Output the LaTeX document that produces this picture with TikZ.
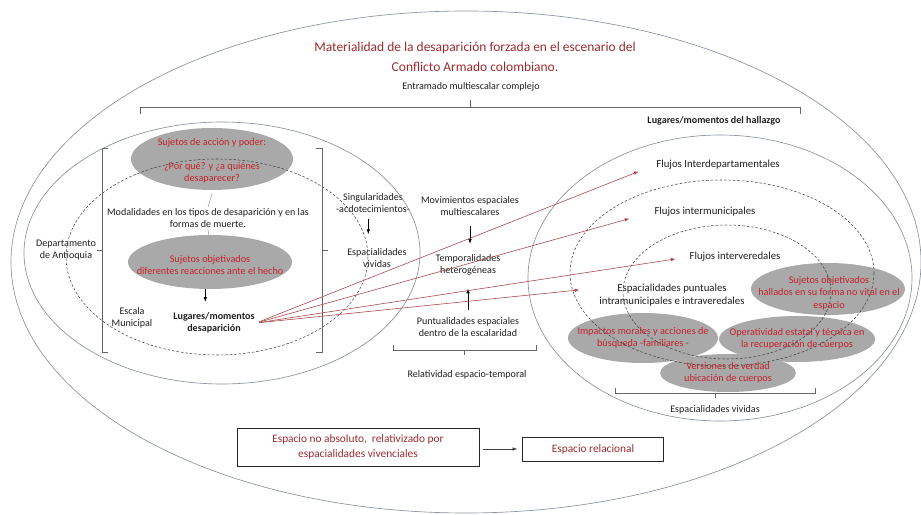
\documentclass[tikz,border=0pt]{standalone}
\usepackage{fontspec}
\setmainfont{Carlito}
\usetikzlibrary{calc,arrows.meta,shapes.geometric}
\definecolor{titred}{HTML}{9B2B2F}
\definecolor{blobred}{HTML}{C4222B}
\definecolor{blobgray}{HTML}{A9A9A9}
\definecolor{rimgray}{HTML}{87909F}
\definecolor{arrred}{HTML}{A8474B}
\tikzset{
  rim/.style={draw=rimgray,line width=0.55pt},
  rimdash/.style={draw=black!75,line width=0.45pt,dash pattern=on 2.2pt off 1.6pt},
  txt/.style={font=\fontsize{8.6}{10.4}\selectfont,align=center,inner sep=1pt,text=black!88},
  bold/.style={txt,font=\fontsize{8.6}{10.4}\selectfont\bfseries},
  flujo/.style={txt,font=\fontsize{9.2}{11.2}\selectfont},
  blob/.style 2 args={ellipse,fill=blobgray,inner sep=0pt,
    minimum width=#1*0.06cm,minimum height=#2*0.06cm},
  blobtxt/.style={text=blobred,align=center,inner sep=0pt,font=\fontsize{8.7}{10.5}\selectfont},
  caja/.style 2 args={draw=black!85,line width=0.8pt,text=titred,align=center,
    font=\fontsize{9.7}{13}\selectfont,minimum width=#1*0.03cm,minimum height=#2*0.03cm},
  bracket/.style={draw=black!60,line width=0.5pt},
  flecha/.style={draw=arrred,line width=0.5pt,-{Latex[length=4pt,width=3pt]}},
  negra/.style={draw=black,line width=0.5pt,-{Latex[length=4pt,width=3pt]}}
}
\begin{document}
\begin{tikzpicture}[x=0.03cm,y=-0.03cm]
%\draw[help lines,step=50] (0,0) grid (921,515);
\useasboundingbox (0,0) rectangle (921,515);
% texts on top
\node[txt,font=\fontsize{11.5}{16.5}\selectfont,text=titred] (titulo) at (475,57)
  {Materialidad de la desaparición forzada en el escenario del\\Conflicto Armado colombiano.};
\node[txt] (entramado) at (471,87) {Entramado multiescalar complejo};
\node[bold] (hallazgo) at (714,121) {Lugares/momentos del hallazgo};
% left part
\node[blob={81}{31}] (accion) at (212,159) {};
\node[blobtxt] (accion-t) at (212,161) {Sujetos de acción y poder:\\[10pt]¿Por qué? y ¿a quiénes\\desaparecer?};
\node[txt] (modal) at (208,218) {Modalidades en los tipos de desaparición y en las\\formas de muerte.};
\node[blob={82}{27}] (sujobj) at (210,262) {};
\node[blobtxt] (sujobj-t) at (210,265) {Sujetos objetivados\\diferentes reacciones ante el hecho};
\node[bold] (lugdes) at (214,323) {Lugares/momentos\\desaparición};
\node[txt] (escala) at (132,318) {Escala\\Municipal};
\node[txt] (depto) at (66,250) {Departamento\\de Antioquia};
\draw[black!35,line width=0.5pt] ([yshift=-3pt]accion.south) -- (modal.north);
\draw[black!35,line width=0.5pt] (modal.south) -- ($(sujobj.north)!0.35!(sujobj.center)$);
\draw[negra,shorten >=8pt] ([xshift=-4pt]sujobj.south) -- ([xshift=-4pt]sujobj.south |- lugdes.north);
% middle
\node[txt] (singu) at (373,203) {Singularidades\\-acdotecimientos-};
\node[txt] (espviv) at (377,258) {Espacialidades\\vividas};
\node[txt] (movim) at (470,206) {Movimientos espaciales\\multiescalares};
\node[txt] (tempo) at (468,265) {Temporalidades\\heterogéneas};
\node[txt] (puntu) at (468,327) {Puntualidades espaciales\\dentro de la escalaridad};
\node[txt] (relat) at (467,375) {Relatividad espacio-temporal};
\draw[negra,shorten <=4pt,shorten >=11pt] ([xshift=-4pt]singu.south) -- ([xshift=-4pt]singu.south |- espviv.north);
\draw[negra,shorten <=8pt,shorten >=8pt] (movim.south) -- (movim.south |- tempo.north);
\draw[negra,shorten <=5pt,shorten >=10pt] (puntu.north) -- (puntu.north |- tempo.south);
% right part
\node[blob={77}{26}] (hallados) at (828,289) {};
\node[blob={75}{25}] (impactos) at (643,338) {};
\node[blob={78}{23}] (operat) at (797,339) {};
\node[blob={68}{19}] (versiones) at (728,373) {};
\node[blobtxt] (hallados-t) at (829,293) {Sujetos objetivados\\hallados en su forma no vital en el\\espacio};
\node[blobtxt] (impactos-t) at (643,338) {Impactos morales y acciones de\\búsqueda -familiares -};
\node[blobtxt] (operat-t) at (797,339) {Operatividad estatal y técnica en\\la recuperación de cuerpos};
\node[blobtxt] (versiones-t) at (728,373) {Versiones de verdad\\ubicación de cuerpos};
\node[flujo] (flujdep) at (718,165) {Flujos Interdepartamentales};
\node[flujo] (flujmun) at (705,212) {Flujos intermunicipales};
\node[flujo] (flujver) at (735,257) {Flujos interveredales};
\node[flujo] (esppunt) at (672,295) {Espacialidades puntuales\\intramunicipales e intraveredales};
\node[txt] (espvivr) at (715,410) {Espacialidades vividas};
% ellipses
\draw[rim] (466,262) ellipse [x radius=455,y radius=251];
\draw[rim] (222,253) ellipse [x radius=198,y radius=131];
\draw[rimdash] (217,257) ellipse [x radius=151,y radius=98];
\draw[rim] (720,278) ellipse [x radius=192,y radius=143];
\draw[rimdash] (722,273) ellipse [x radius=152,y radius=93];
\draw[rimdash] (727,292) ellipse [x radius=104,y radius=67];
% brackets
\draw[bracket] (140,114) -- (140,107) -- (800,107) -- (800,114) (470,107) -- (470,100);
\draw[bracket] (108,148) -- (102,148) -- (102,352) -- (108,352) (102,250) -- (97,250);
\draw[bracket] (316,148) -- (322,148) -- (322,352) -- (316,352) (322,250) -- (328,250);
\draw[bracket] (393,345) -- (393,350) -- (536,350) -- (536,345) (464,350) -- (464,355);
\draw[bracket] (615,388) -- (615,393) -- (815,393) -- (815,388) (715,393) -- (715,398);
% red arrows
\draw[flecha,shorten <=3pt,shorten >=15pt] (lugdes.east) -- (flujdep.west);
\draw[flecha,shorten <=3pt,shorten >=21pt] (lugdes.east) -- (flujmun.west);
\draw[flecha,shorten <=3pt,shorten >=11pt] (lugdes.east) -- (flujver.west);
\draw[flecha,shorten <=3pt,shorten >=16pt] (lugdes.east) -- ($(esppunt.west)+(0,-7)$);
% boxes
\node[caja={242}{38}] (noabs) at (358,447) {Espacio no absoluto,~ relativizado por\\espacialidades vivenciales};
\node[caja={141}{24}] (relac) at (593,449) {Espacio relacional};
\draw[negra,draw=black!75,shorten <=3pt,shorten >=4pt] (noabs.east |- relac.west) -- (relac.west);
\end{tikzpicture}
\end{document}
